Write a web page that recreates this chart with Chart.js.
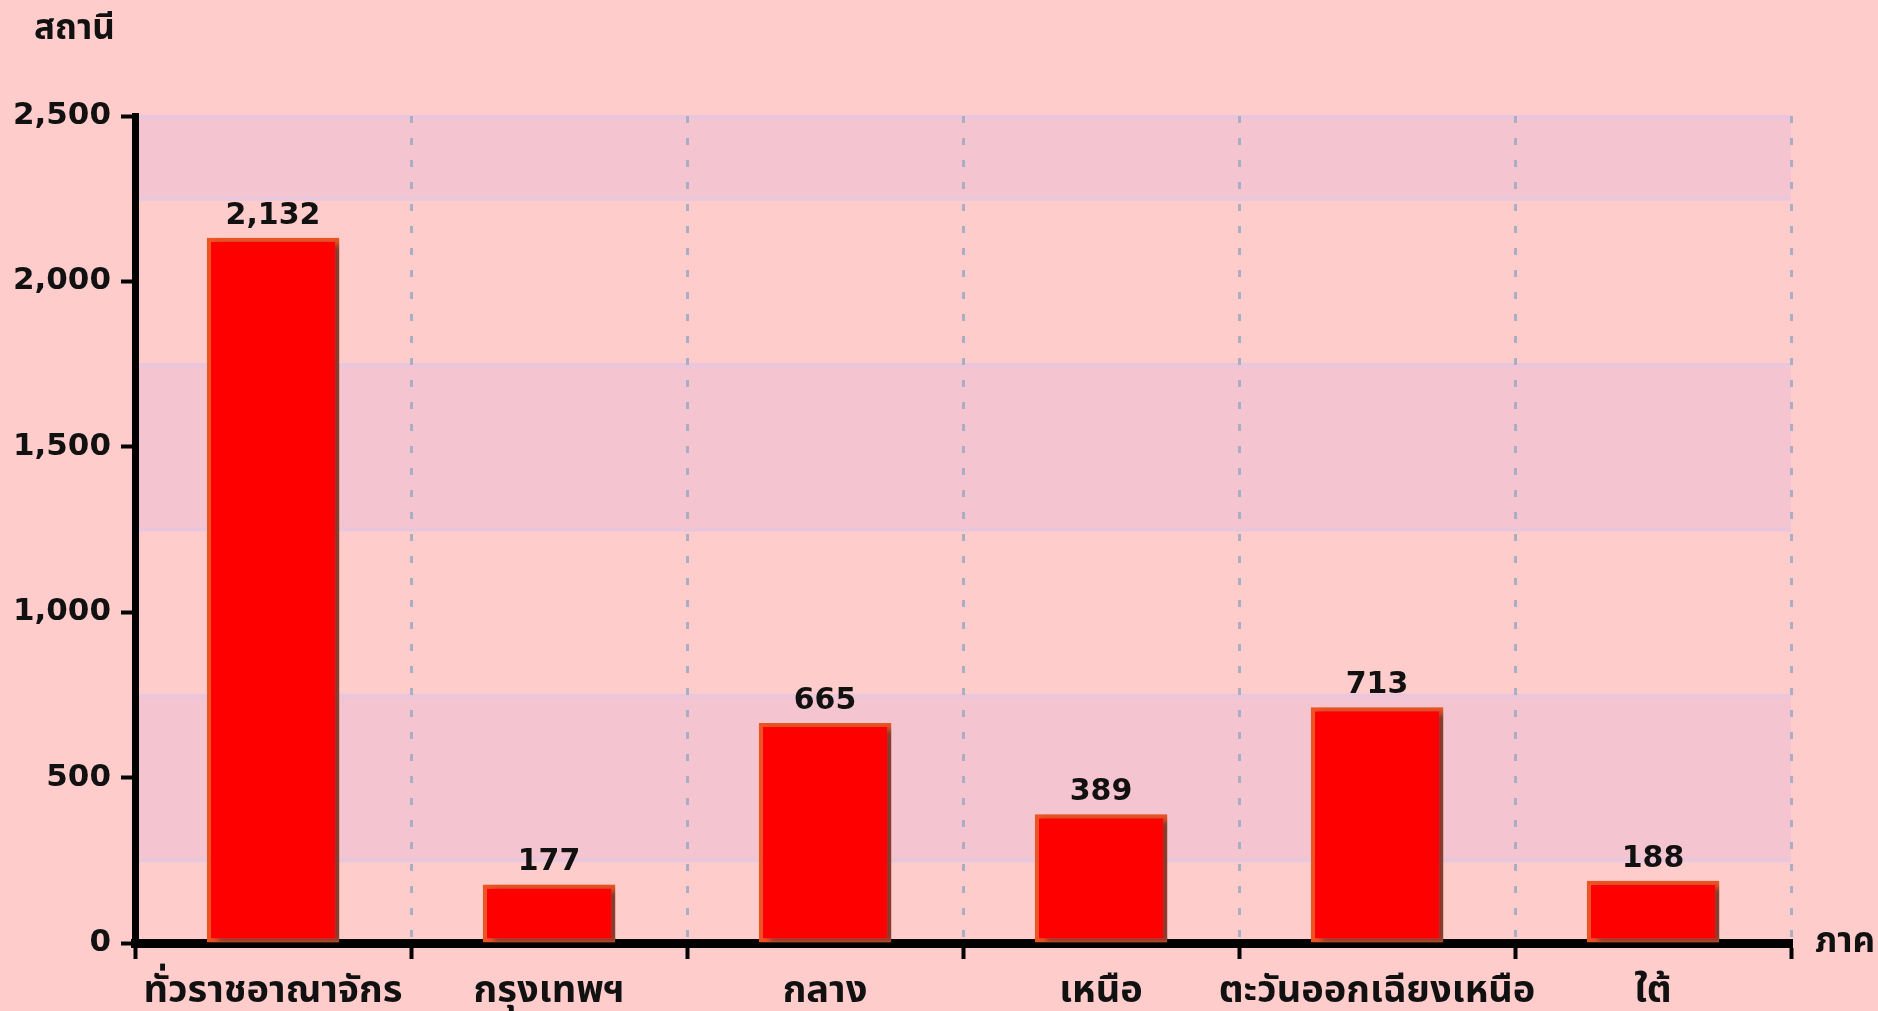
<!DOCTYPE html>
<html>
<head>
<meta charset="utf-8">
<script src="https://cdn.jsdelivr.net/npm/chart.js@4.4.1/dist/chart.umd.min.js"></script>
<style>
  html, body { margin: 0; padding: 0; background: #ffcccc; }
  #wrap { width: 1878px; height: 1011px; }
</style>
</head>
<body>
<div id="wrap"><canvas id="chart" width="1878" height="1011"></canvas></div>
<script>
  // data
  var categories = ['ทั่วราชอาณาจักร', 'กรุงเทพฯ', 'กลาง', 'เหนือ', 'ตะวันออกเฉียงเหนือ', 'ใต้'];
  var stations = [2132, 177, 665, 389, 713, 188];
  var yTicks = [0, 500, 1000, 1500, 2000, 2500];
  var bandFrom = [250, 1250, 2250];
  var bandTo = [750, 1750, 2500];
  var yTitle = 'สถานี';
  var xTitle = 'ภาค';

  var FONT = "'DejaVu Sans', Tahoma, 'Noto Sans Thai', sans-serif";
  var numberFormat = new Intl.NumberFormat('en-US');

  var decorPlugin = {
    id: 'decor',
    beforeDraw: function (chart) {
      var ctx = chart.ctx;
      var area = chart.chartArea;
      var y = chart.scales.y;
      ctx.save();
      ctx.fillStyle = '#ffcccc';
      ctx.fillRect(0, 0, chart.width, chart.height);
      for (var i = 0; i < bandFrom.length; i++) {
        var top = y.getPixelForValue(bandTo[i]);
        var bot = y.getPixelForValue(bandFrom[i]);
        ctx.fillStyle = '#f4c5d1';
        ctx.fillRect(area.left, top, area.right - area.left, bot - top);
        ctx.fillStyle = '#e8c6dc';
        ctx.fillRect(area.left, top - 1, area.right - area.left, 4);
        ctx.fillRect(area.left, bot - 2, area.right - area.left, 4);
      }
      ctx.restore();
    },
    beforeDatasetsDraw: function (chart) {
      var ctx = chart.ctx;
      ctx.save();
      ctx.shadowColor = 'rgba(80, 50, 50, 0.7)';
      ctx.shadowOffsetX = 7;
      ctx.shadowOffsetY = 3;
      ctx.shadowBlur = 6;
    },
    afterDatasetsDraw: function (chart) {
      var ctx = chart.ctx;
      ctx.restore();
      var meta = chart.getDatasetMeta(0);
      ctx.save();
      ctx.fillStyle = '#111';
      ctx.font = 'bold 30px ' + FONT;
      ctx.textAlign = 'center';
      ctx.textBaseline = 'alphabetic';
      meta.data.forEach(function (bar, i) {
        ctx.fillText(numberFormat.format(stations[i]), bar.x, bar.y - 14);
      });
      ctx.restore();
    },
    afterDraw: function (chart) {
      var ctx = chart.ctx;
      var area = chart.chartArea;
      ctx.save();
      ctx.fillStyle = '#111';
      ctx.font = 'bold 35px ' + FONT;
      ctx.textBaseline = 'middle';
      ctx.textAlign = 'left';
      ctx.fillText(yTitle, 34, 30);
      ctx.fillText(xTitle, area.right + 24, area.bottom);
      ctx.restore();
    }
  };

  new Chart(document.getElementById('chart'), {
    type: 'bar',
    data: {
      labels: categories,
      datasets: [{
        data: stations,
        backgroundColor: '#ff0000',
        borderColor: '#ec5420',
        borderWidth: 4,
        borderSkipped: false,
        barPercentage: 0.48,
        categoryPercentage: 1
      }]
    },
    options: {
      responsive: false,
      animation: false,
      devicePixelRatio: 1,
      layout: { padding: { top: 116, right: 87, left: 0, bottom: 0 } },
      plugins: {
        legend: { display: false },
        tooltip: { enabled: false }
      },
      scales: {
        x: {
          afterFit: function (scale) { scale.height = 68; },
          grid: {
            offset: true,
            color: '#a9aec4',
            lineWidth: 3,
            tickColor: '#000',
            tickWidth: 4,
            tickLength: 16,
            tickBorderDash: []
          },
          border: { display: true, color: '#000', width: 9, dash: [7, 15] },
          ticks: {
            color: '#111',
            padding: 10,
            maxRotation: 0,
            autoSkip: false,
            font: { family: FONT, size: 38, weight: 'bold' }
          }
        },
        y: {
          min: 0,
          max: 2500,
          afterFit: function (scale) { scale.width = 135; },
          afterBuildTicks: function (scale) {
            scale.ticks = yTicks.map(function (v) { return { value: v }; });
          },
          grid: {
            drawOnChartArea: false,
            tickColor: '#000',
            tickWidth: 4,
            tickLength: 14
          },
          border: { display: true, color: '#000', width: 7 },
          ticks: {
            color: '#111',
            padding: 10,
            font: { family: FONT, size: 31, weight: 'bold' },
            callback: function (v) { return numberFormat.format(v); }
          }
        }
      }
    },
    plugins: [decorPlugin]
  });
</script>
</body>
</html>
